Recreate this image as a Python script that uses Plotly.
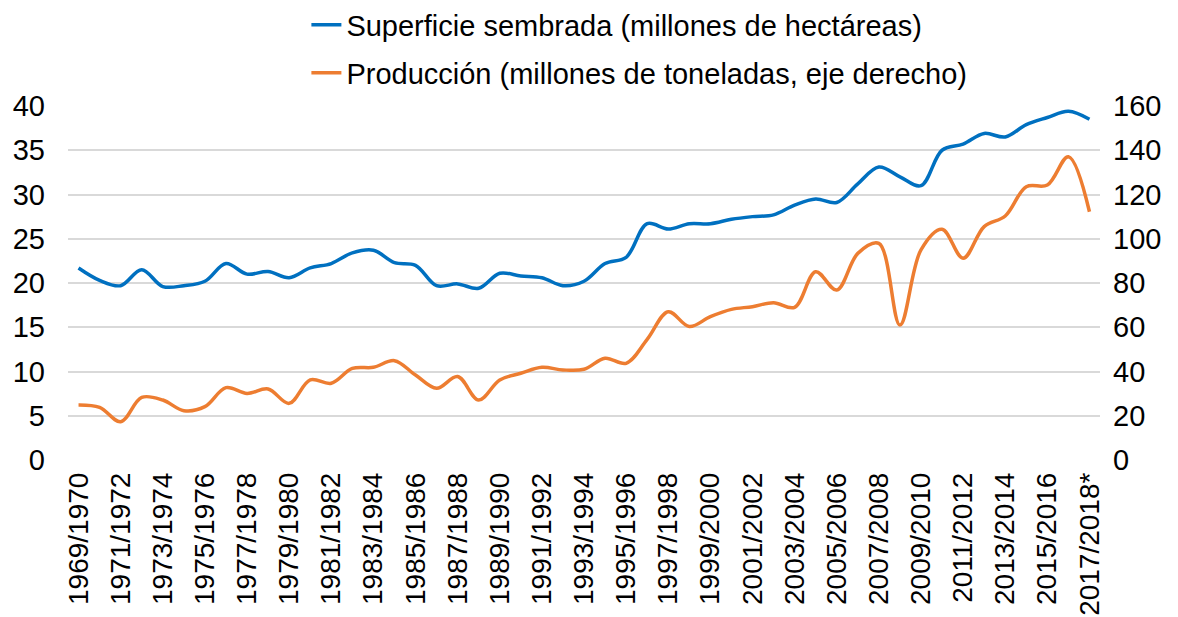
import plotly.graph_objects as go

campanas = [
    "1969/1970", "1970/1971", "1971/1972", "1972/1973", "1973/1974", "1974/1975",
    "1975/1976", "1976/1977", "1977/1978", "1978/1979", "1979/1980", "1980/1981",
    "1981/1982", "1982/1983", "1983/1984", "1984/1985", "1985/1986", "1986/1987",
    "1987/1988", "1988/1989", "1989/1990", "1990/1991", "1991/1992", "1992/1993",
    "1993/1994", "1994/1995", "1995/1996", "1996/1997", "1997/1998", "1998/1999",
    "1999/2000", "2000/2001", "2001/2002", "2002/2003", "2003/2004", "2004/2005",
    "2005/2006", "2006/2007", "2007/2008", "2008/2009", "2009/2010", "2010/2011",
    "2011/2012", "2012/2013", "2013/2014", "2014/2015", "2015/2016", "2016/2017",
    "2017/2018*",
]

superficie = [
    21.7, 20.3, 19.7, 21.5, 19.6, 19.7, 20.2, 22.2, 21.0, 21.3,
    20.6, 21.7, 22.2, 23.4, 23.7, 22.3, 22.0, 19.7, 19.9, 19.4,
    21.1, 20.8, 20.6, 19.7, 20.2, 22.2, 22.9, 26.7, 26.1, 26.7,
    26.7, 27.2, 27.5, 27.7, 28.8, 29.5, 29.1, 31.2, 33.1, 32.0,
    31.0, 35.0, 35.7, 36.9, 36.5, 37.9, 38.7, 39.4, 38.5,
]

produccion = [
    24.9, 23.8, 17.3, 28.3, 27.1, 22.3, 24.1, 32.7, 30.1, 32.1,
    25.6, 36.2, 34.7, 41.4, 41.9, 44.9, 38.4, 32.4, 37.7, 27.1,
    36.2, 39.2, 41.9, 40.7, 41.0, 46.0, 43.7, 54.5, 67.0, 60.3,
    64.8, 68.1, 69.3, 71.1, 69.0, 85.1, 76.8, 93.4, 97.9, 61.0,
    95.0, 104.3, 91.2, 105.5, 110.3, 123.5, 124.3, 137.1, 112.2,
]

FONT = "Liberation Sans, Arial, sans-serif"
BLUE = "#0070C0"
ORANGE = "#ED7D31"
FS = 29

fig = go.Figure()
fig.add_trace(go.Scatter(
    x=campanas, y=superficie, mode="lines",
    name="Superficie sembrada (millones de hectáreas)",
    line=dict(color=BLUE, width=3.5, shape="spline", smoothing=1.0),
    legend="legend",
))
fig.add_trace(go.Scatter(
    x=campanas, y=produccion, mode="lines",
    name="Producción (millones de toneladas, eje derecho)",
    line=dict(color=ORANGE, width=3.5, shape="spline", smoothing=1.0),
    yaxis="y2", legend="legend2",
))

fig.update_layout(
    width=1178, height=617,
    margin=dict(l=60, r=86, t=98, b=165, autoexpand=False),
    paper_bgcolor="white", plot_bgcolor="white",
    font=dict(family=FONT, size=FS, color="black"),
    xaxis=dict(
        type="category", range=[-0.5, len(campanas) - 0.5],
        tickmode="array", tickvals=campanas[::2], ticktext=campanas[::2],
        tickangle=-90, showgrid=False, showline=False, zeroline=False,
        tickfont=dict(size=28), ticklabelstandoff=6, automargin=False,
    ),
    yaxis=dict(
        range=[0, 40], dtick=5, showgrid=True, gridcolor="#d9d9d9", gridwidth=1.5,
        zeroline=False, showline=False, tickfont=dict(size=FS), ticklabelstandoff=22,
        automargin=False,
    ),
    yaxis2=dict(
        range=[0, 160], dtick=20, overlaying="y", side="right", showgrid=False,
        zeroline=False, showline=False, tickfont=dict(size=FS), ticklabelstandoff=12,
        automargin=False,
    ),
    legend=dict(
        x=0.231, xanchor="left", xref="paper", y=1 - 17 / 617, yanchor="middle",
        yref="container", font=dict(size=FS), bgcolor="rgba(0,0,0,0)",
    ),
    legend2=dict(
        x=0.231, xanchor="left", xref="paper", y=1 - 65 / 617, yanchor="middle",
        yref="container", font=dict(size=FS), bgcolor="rgba(0,0,0,0)",
    ),
    showlegend=True,
)

fig.write_html("out.html")
